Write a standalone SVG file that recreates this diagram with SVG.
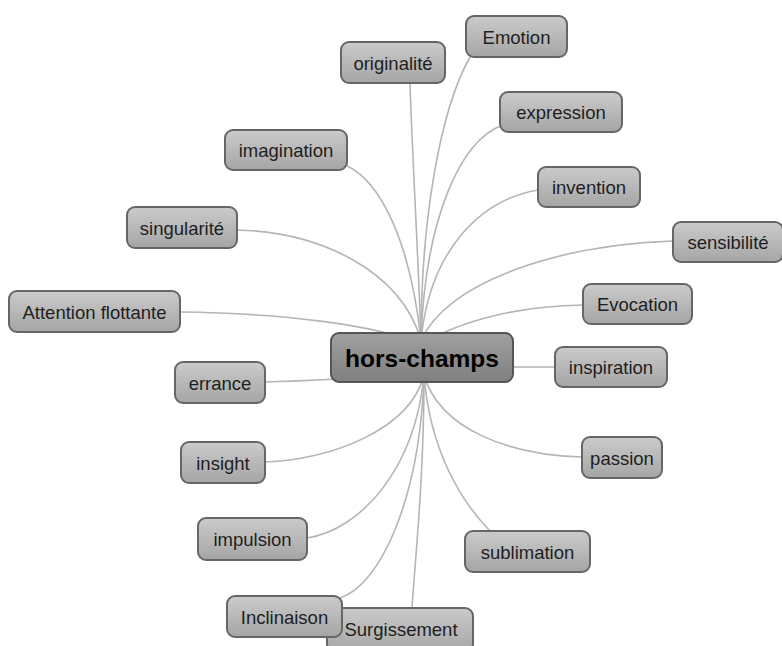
<svg xmlns="http://www.w3.org/2000/svg" width="782" height="646" viewBox="0 0 782 646">
<defs>
<linearGradient id="g" x1="0" y1="0" x2="0" y2="1">
<stop offset="0" stop-color="#cbcbcb"/><stop offset="1" stop-color="#a5a5a5"/>
</linearGradient>
<linearGradient id="gh" x1="0" y1="0" x2="0" y2="1">
<stop offset="0" stop-color="#a0a0a0"/><stop offset="1" stop-color="#808080"/>
</linearGradient>
</defs>
<style>
.n rect{fill:url(#g);stroke:#666;stroke-width:2}
.n text{font-family:"Liberation Sans",Arial,sans-serif;font-size:18.5px;fill:#1e1e1e;text-anchor:middle;dominant-baseline:central}
#hub rect{fill:url(#gh);stroke:#555;stroke-width:2}
#hub text{font-family:"Liberation Sans",Arial,sans-serif;font-size:24.5px;font-weight:bold;fill:#000;text-anchor:middle;dominant-baseline:central}
#edges path{fill:none;stroke:#b5b5b5;stroke-width:1.6}
</style>
<rect width="782" height="646" fill="#fff"/>
<g id="edges">
<path d="M421 340 C418 250 412 150 410 83"/>
<path d="M421 340 C421 220 440 110 470 57"/>
<path d="M421 340 C425 220 460 140 503 125"/>
<path d="M421 340 C410 240 380 180 345 165"/>
<path d="M421 340 C430 250 480 200 538 190"/>
<path d="M421 340 C400 270 320 232 237 230"/>
<path d="M421 340 C450 280 560 245 673 241"/>
<path d="M421 345 C380 325 280 313 180 312"/>
<path d="M421 345 C460 320 520 306 583 305"/>
<path d="M421 370 C380 378 300 381 265 382"/>
<path d="M421 367 L555 367"/>
<path d="M424 375 C410 430 330 460 265 462"/>
<path d="M424 375 C440 430 510 455 582 457"/>
<path d="M424 375 C415 470 360 530 307 538"/>
<path d="M424 375 C430 450 460 500 490 531"/>
<path d="M424 375 C420 500 380 585 340 598"/>
<path d="M424 375 C424 480 415 560 412 608"/>
</g>
<g id="originalite" class="n"><rect x="341" y="42" width="104" height="41" rx="8"/><text x="393" y="63">originalité</text></g>
<g id="emotion" class="n"><rect x="466" y="16" width="101" height="41" rx="8"/><text x="516.5" y="37">Emotion</text></g>
<g id="expression" class="n"><rect x="500" y="92" width="122" height="40" rx="8"/><text x="561" y="112">expression</text></g>
<g id="imagination" class="n"><rect x="225" y="130" width="122" height="40" rx="8"/><text x="286" y="150">imagination</text></g>
<g id="invention" class="n"><rect x="538" y="167" width="102" height="40" rx="8"/><text x="589" y="187">invention</text></g>
<g id="singularite" class="n"><rect x="127" y="207" width="110" height="41" rx="8"/><text x="182" y="228">singularité</text></g>
<g id="sensibilite" class="n"><rect x="673" y="222" width="110" height="40" rx="8"/><text x="728" y="242">sensibilité</text></g>
<g id="attention" class="n"><rect x="9" y="291" width="171" height="41" rx="8"/><text x="94.5" y="312">Attention flottante</text></g>
<g id="evocation" class="n"><rect x="583" y="284" width="109" height="40" rx="8"/><text x="637.5" y="304">Evocation</text></g>
<g id="errance" class="n"><rect x="175" y="362" width="90" height="41" rx="8"/><text x="220" y="383">errance</text></g>
<g id="inspiration" class="n"><rect x="555" y="347" width="112" height="40" rx="8"/><text x="611" y="367">inspiration</text></g>
<g id="insight" class="n"><rect x="181" y="442" width="84" height="41" rx="8"/><text x="223" y="463">insight</text></g>
<g id="passion" class="n"><rect x="582" y="437" width="80" height="41" rx="8"/><text x="622" y="458">passion</text></g>
<g id="impulsion" class="n"><rect x="198" y="518" width="109" height="42" rx="8"/><text x="252.5" y="539">impulsion</text></g>
<g id="sublimation" class="n"><rect x="465" y="531" width="125" height="41" rx="8"/><text x="527.5" y="552">sublimation</text></g>
<g id="surgissement" class="n"><rect x="327" y="608" width="146" height="44" rx="8"/><text x="401" y="629">Surgissement</text></g>
<g id="inclinaison" class="n"><rect x="227" y="596" width="115" height="41" rx="8"/><text x="284.5" y="617">Inclinaison</text></g>
<g id="hub"><rect x="331" y="333" width="182" height="49" rx="8"/><text x="422" y="358">hors-champs</text></g>
</svg>
